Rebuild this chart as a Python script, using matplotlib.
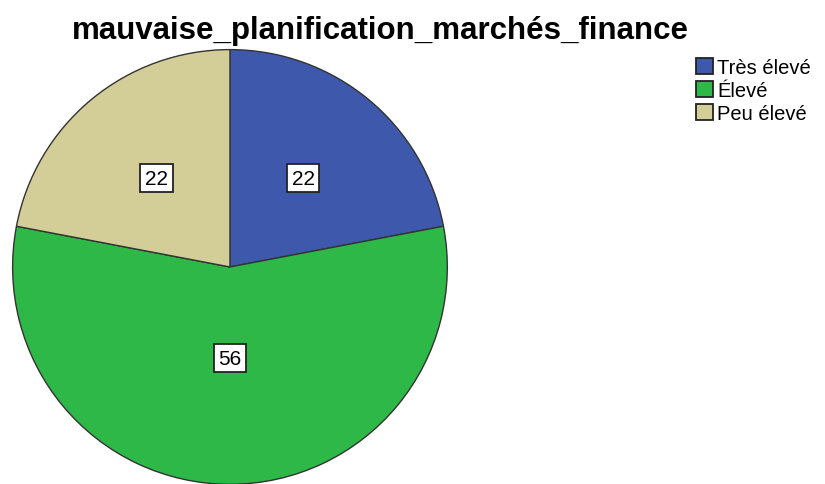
import numpy as np
import matplotlib
matplotlib.use('Agg')
from matplotlib import pyplot as plt
from matplotlib.patches import Patch

plt.rcParams['font.family'] = ['Liberation Sans', 'DejaVu Sans']

categories = ['Très élevé', 'Élevé', 'Peu élevé']
values = [22, 56, 22]
colors = ['#3e58ac', '#2eb848', '#d3ce97']
label_dist = [0.53, 0.42, 0.53]

fig = plt.figure(figsize=(8.25, 4.85), dpi=100)
ax = fig.add_axes([0.0145, -0.002, 0.5285, 0.899])

wedges, _ = ax.pie(values, colors=colors, startangle=90, counterclock=False,
                   wedgeprops={'edgecolor': '#333333', 'linewidth': 1.0})
ax.set_xlim(-1.003, 1.003)
ax.set_ylim(-1.003, 1.003)
ax.set_aspect('equal')

# value boxes placed along each wedge's mid angle
for w, v, d in zip(wedges, values, label_dist):
    ang = np.deg2rad((w.theta1 + w.theta2) / 2)
    ax.text(d * np.cos(ang), d * np.sin(ang), str(v), ha='center', va='center',
            fontsize=15,
            bbox=dict(boxstyle='square,pad=0.22', facecolor='white',
                      edgecolor='#222222', linewidth=1.3))

fig.text(0.461, 0.937, 'mauvaise_planification_marchés_finance', ha='center',
         va='center', fontsize=22.5, fontweight='bold')

handles = [Patch(facecolor=c, edgecolor='#222222', linewidth=1.3) for c in colors]
fig.legend(handles, categories, loc='upper left', bbox_to_anchor=(0.844, 0.878),
           frameon=False, fontsize=14.5, handlelength=0.85, handleheight=0.85,
           handletextpad=0.2, labelspacing=0.2, borderpad=0, borderaxespad=0)

fig.savefig('out.png', dpi=100)
